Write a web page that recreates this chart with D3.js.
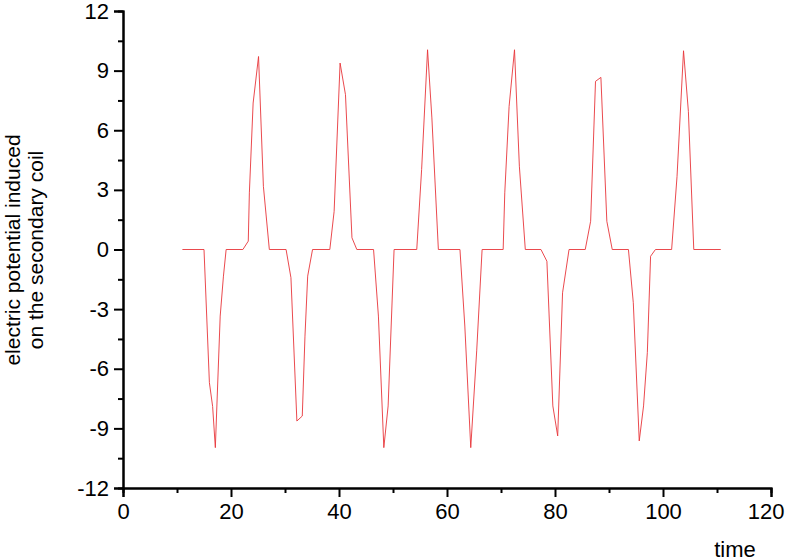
<!DOCTYPE html>
<html><head><meta charset="utf-8">
<script src="https://cdn.jsdelivr.net/npm/d3@7"></script>
<style>body{margin:0;background:#fff}text{font-family:"Liberation Sans",Arial,sans-serif}</style>
</head><body><svg id="c" width="785" height="560"></svg>
<script>
const times = [11,15,16.0,16.6,17.1,18.0,18.6,19.1,22.2,23.2,23.4,24.1,25.1,26.0,27.1,30.2,31.1,32.2,33.2,33.7,34.2,35.1,38.3,39.1,40.2,41.2,42.4,43.3,46.4,47.3,48.3,49.1,50.2,54.4,55.3,56.4,57.2,58.4,62.4,63.3,64.4,65.5,66.5,70.4,70.7,71.5,72.5,73.4,74.5,77.4,78.5,79.6,80.5,81.4,82.6,85.6,86.6,87.5,88.5,89.6,90.6,93.6,94.5,95.6,96.4,97.1,97.7,98.6,101.6,102.6,103.8,104.7,105.7,110.7];
const potential = [0,0,-6.7,-7.9,-9.97,-3.35,-1.34,0,0,0.42,2.85,7.37,9.71,3.18,0,0,-1.42,-8.63,-8.38,-4.36,-1.34,0,0,1.92,9.38,7.79,0.59,0,0,-3.35,-9.97,-7.87,0,0,4.02,10.05,6.62,0,0,-3.85,-9.97,-5.1,0,0,2.85,7.2,10.05,4.19,0,0,-0.59,-7.87,-9.38,-2.18,0,0,1.42,8.46,8.66,1.42,0,0,-2.68,-9.63,-7.87,-5.19,-0.34,0,0,3.68,10.0,6.95,0,0];
const xTicks = [0,20,40,60,80,100,120];
const yTicks = [-12,-9,-6,-3,0,3,6,9,12];

const svg = d3.select("#c");
const x = d3.scaleLinear().domain([0,120]).range([123,771]);
const y = d3.scaleLinear().domain([-12,12]).range([488,11]);
const fmt = d => String(d);

const xa = svg.append("g").attr("transform","translate(0,488)");
xa.append("g").call(d3.axisBottom(x).tickValues(d3.range(10,120,20)).tickSize(5).tickFormat(""));
xa.append("g").call(d3.axisBottom(x).tickValues(xTicks).tickSize(9).tickPadding(6).tickFormat(fmt));
const ya = svg.append("g").attr("transform","translate(123,0)");
ya.append("g").call(d3.axisLeft(y).tickValues(d3.range(-10.5,12,3)).tickSize(5).tickFormat(""));
ya.append("g").call(d3.axisLeft(y).tickValues(yTicks).tickSize(9).tickPadding(5).tickFormat(fmt));
svg.selectAll(".domain").attr("stroke","#000").attr("stroke-width",2);
svg.selectAll(".tick line").attr("stroke","#000").attr("stroke-width",2);
svg.selectAll(".tick text").attr("font-size",22).attr("fill","#000").style("font-family","Liberation Sans, Arial, sans-serif");
xa.selectAll(".tick text").filter(d=>d===120).attr("text-anchor","end").attr("x",13);

svg.append("path").datum(times.map((t,i)=>[t,potential[i]]))
  .attr("fill","none").attr("stroke","#e8363a").attr("stroke-width",0.9)
  .attr("d",d3.line().x(d=>x(d[0])).y(d=>y(d[1])));

svg.append("text").attr("x",735).attr("y",557).attr("text-anchor","middle").attr("font-size",22).text("time");
const yt = svg.append("text").attr("transform","translate(20,250) rotate(-90)").attr("text-anchor","middle").attr("font-size",21);
yt.append("tspan").attr("x",0).attr("dy",0).text("electric potential induced");
yt.append("tspan").attr("x",0).attr("dy",23).text("on the secondary coil");
</script></body></html>
